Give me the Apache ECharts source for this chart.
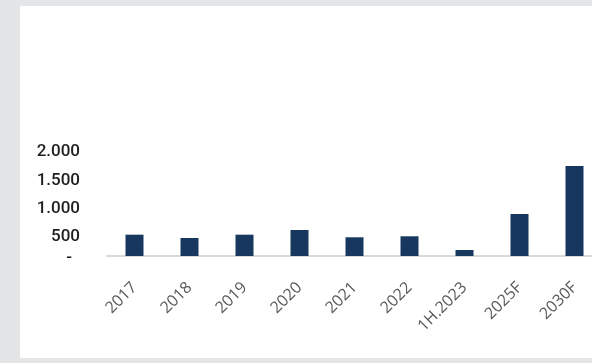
<!DOCTYPE html>
<html>
<head>
<meta charset="utf-8">
<script src="https://cdn.jsdelivr.net/npm/echarts@6/dist/echarts.min.js"></script>
<style>
  html, body { margin: 0; padding: 0; background: #e4e5e7; }
  #chart { width: 592px; height: 363px; }
</style>
</head>
<body>
<div id="chart"></div>
<script>
// Categories and yearly values
const categories = ['2017', '2018', '2019', '2020', '2021', '2022', '1H.2023', '2025F', '2030F'];
const values = [410, 346, 410, 500, 360, 379, 115, 808, 1731];
// Tick values shown on the value axis
const tickValues = [0, 500, 1000, 1500, 2000];
const tickLabels = ['-', '500', '1.000', '1.500', '2.000'];

// Small vertical nudges for the value-axis labels (px, applied as top padding)
const labelNudge = { 0: 3, 500: 13, 1000: 9, 1500: 5, 2000: 0 };

const rich = {};
tickValues.forEach(function (v) {
  rich['t' + v] = {
    fontFamily: 'Roboto',
    fontSize: 17,
    fontWeight: 500,
    color: '#1f1f1f',
    padding: [labelNudge[v], v === 0 ? 8 : 0, 0, 0]
  };
});

const chart = echarts.init(document.getElementById('chart'), null, { renderer: 'canvas' });

chart.setOption({
  backgroundColor: '#e4e5e7',
  animation: false,
  graphic: [{
    type: 'rect',
    left: 20, top: 6,
    shape: { width: 572, height: 352 },
    style: { fill: '#ffffff' },
    z: -10
  }],
  // plot area runs slightly past the right edge of the canvas
  grid: {
    left: 107, width: 495, top: 48, bottom: 107,
    containLabel: false,
    outerBoundsMode: 'none'
  },
  xAxis: {
    type: 'category',
    data: categories,
    axisLine: { show: true, lineStyle: { color: '#d9d9d9', width: 2 } },
    axisTick: { show: false },
    axisLabel: {
      rotate: 45,
      margin: 29,
      interval: 0,
      fontFamily: 'Open Sans',
      fontSize: 16,
      color: '#595959'
    }
  },
  yAxis: {
    type: 'value',
    min: 0,
    max: 4000,
    interval: 500,
    axisLine: { show: false },
    axisTick: { show: false },
    splitLine: { show: false },
    axisLabel: {
      margin: 27,
      rich: rich,
      formatter: function (v) {
        const i = tickValues.indexOf(v);
        if (i < 0) return '';
        return '{t' + v + '|' + tickLabels[i] + '}';
      }
    }
  },
  series: [{
    type: 'bar',
    data: values,
    barWidth: 18,
    itemStyle: { color: '#17375e' }
  }]
});
</script>
</body>
</html>
